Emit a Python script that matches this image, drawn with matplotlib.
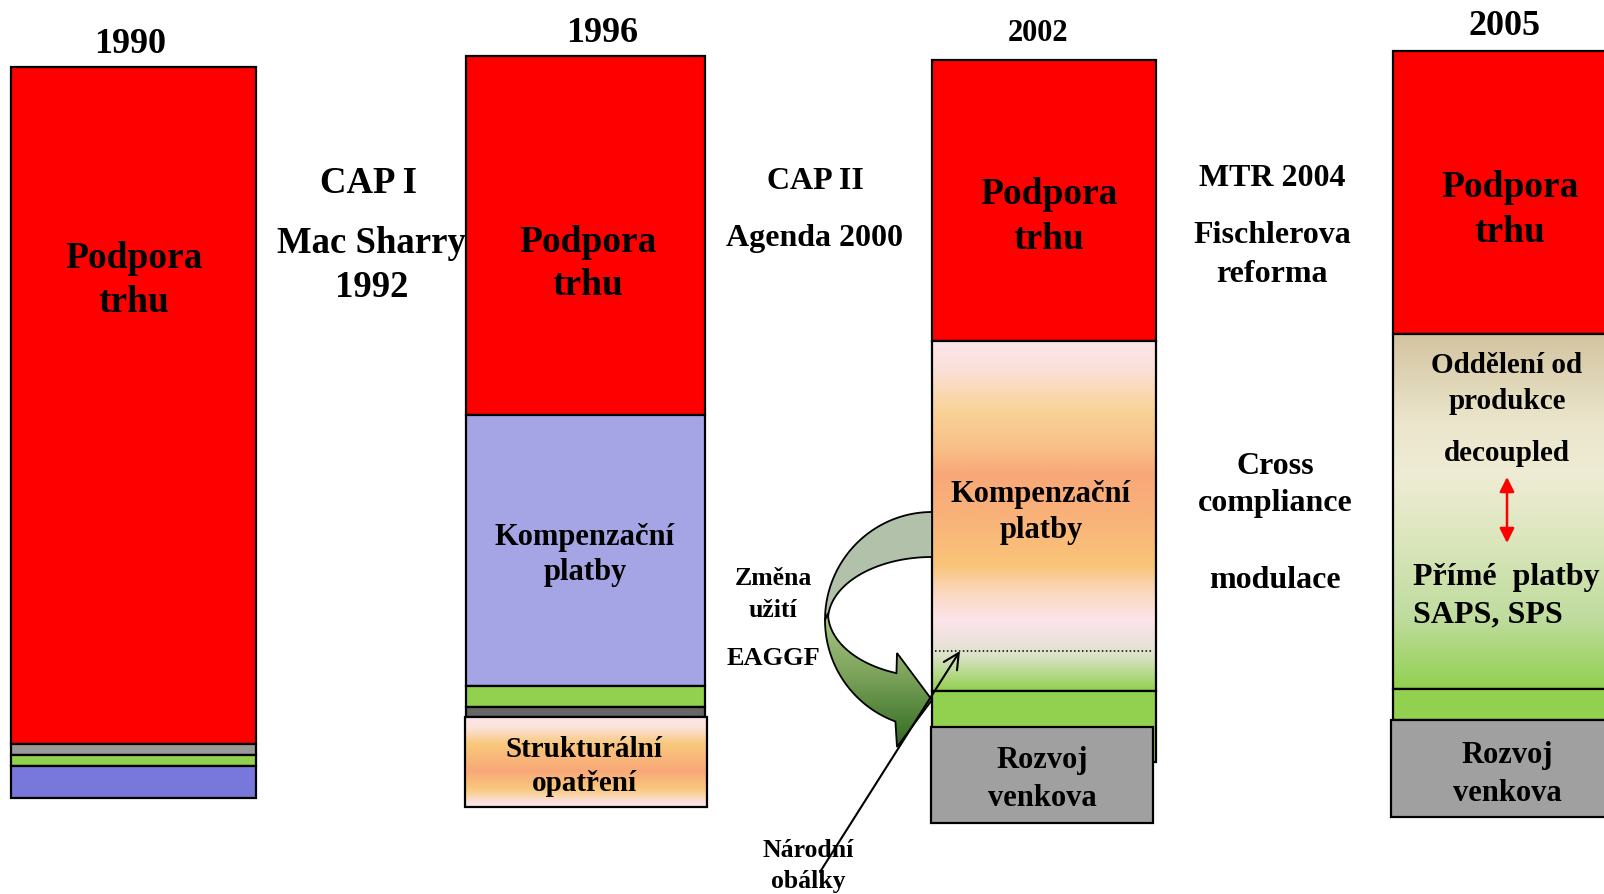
import numpy as np
import matplotlib
matplotlib.use('Agg')
import matplotlib.pyplot as plt
from matplotlib.patches import Polygon
from matplotlib.colors import to_rgb

plt.rcParams['font.family'] = ['Liberation Serif', 'DejaVu Serif']
plt.rcParams['font.weight'] = 'bold'

# ---------------- data ----------------
years = ['1990', '1996', '2002', '2005']
# segment sizes of each column, listed from the top of the column downward
seg_1990 = [677.5, 11, 11, 32]          # Podpora trhu, other, rural, structural
seg_1996 = [359, 271, 21, 10, 90]       # Podpora trhu, Kompenzační platby, rural, other, Strukturální opatření
seg_2002 = [281, 350, 36, 96]           # Podpora trhu, Kompenzační platby, green, Rozvoj venkova
seg_2005 = [283, 355, 31, 97]           # Podpora trhu, Oddělení od produkce, green, Rozvoj venkova
reform_labels = [['CAP I', 'Mac Sharry', '1992'],
                 ['CAP II', 'Agenda 2000'],
                 ['MTR 2004', 'Fischlerova', 'reforma']]

W, H = 1604, 894
fig = plt.figure(figsize=(W / 100, H / 100), dpi=100)
ax = fig.add_axes([0, 0, 1, 1])
ax.set_xlim(0, W)
ax.set_ylim(H, 0)
ax.axis('off')

RED, GREEN, RGRAY = '#ff0000', '#92d050', '#a0a0a0'
grad_struct = [(0, '#fde6ec'), (0.12, '#fbe2d8'), (0.3, '#f9c87c'), (0.6, '#f8a878'),
               (0.8, '#f9c87c'), (0.95, '#fbe2e0'), (1, '#fde6ec')]
grad_komp = [(0, '#fde6ea'), (0.08, '#fbe0d8'), (0.19, '#f9d49a'), (0.3, '#f8c088'),
             (0.38, '#f8a878'), (0.5, '#f9b27a'), (0.64, '#f9c478'), (0.72, '#fbd8c0'),
             (0.8, '#fce4ea'), (0.86, '#ece2dc'), (0.9, '#dce2c8'), (1, '#92d050')]
grad_dec = [(0, '#d3c4a0'), (0.25, '#ebe6cc'), (0.4, '#eeecd4'), (0.55, '#dfe7c0'),
            (0.8, '#bfdc9e'), (1, '#92d050')]

LW = 1.6


def make_grad(stops, n=300):
    pos = np.array([s[0] for s in stops])
    cols = np.array([to_rgb(s[1]) for s in stops])
    t = np.linspace(0, 1, n)
    return np.stack([np.interp(t, pos, cols[:, i]) for i in range(3)], axis=-1)[:, None, :]


def grad_fill(patch, stops, x0, x1, y0, y1, z):
    im = ax.imshow(make_grad(stops), extent=[x0, x1, y1, y0], origin='upper',
                   aspect='auto', zorder=z, interpolation='bilinear')
    im.set_clip_path(patch)


columns = [
    dict(segs=seg_1990, top=66.5, x0=11, w=245,
         fills=[RED, '#999999', GREEN, '#7878dc'], boxes={}),
    dict(segs=seg_1996, top=56, x0=466, w=239,
         fills=[RED, '#a5a5e6', GREEN, '#666666', grad_struct], boxes={4: (-1.5, 1.5)}),
    dict(segs=seg_2002, top=60, x0=932, w=223.5,
         fills=[RED, grad_komp, GREEN, RGRAY], boxes={3: (-1, -2.5)}, extend={2: 35}),
    dict(segs=seg_2005, top=51, x0=1393, w=232,
         fills=[RED, grad_dec, GREEN, RGRAY], boxes={3: (-2, -2)}),
]

for c in columns:
    y = c['top']
    for i, (h, f) in enumerate(zip(c['segs'], c['fills'])):
        dx0, dx1 = c['boxes'].get(i, (0, 0))
        x0 = c['x0'] + dx0
        w = c['w'] - dx0 + dx1
        hh = h + c.get('extend', {}).get(i, 0)
        z = 2 + i * 0.1 + (0.5 if i in c['boxes'] else 0)
        if isinstance(f, str):
            ax.bar(x0, hh, width=w, bottom=y, align='edge', color=f,
                   edgecolor='black', linewidth=LW, zorder=z)
        else:
            bc = ax.bar(x0, hh, width=w, bottom=y, align='edge', color='none',
                        edgecolor='black', linewidth=LW, zorder=z + 0.05)
            grad_fill(bc.patches[0], f, x0, x0 + w, y, y + hh, z)
        y += h

# year labels
year_pos = [(130, 53, 26), (602, 42, 26), (1038, 41, 22), (1505, 35, 26)]
for yr, (x, yb, fs) in zip(years, year_pos):
    ax.text(x, yb, yr, ha='center', va='baseline', fontsize=fs, zorder=10)

# reform labels between columns
ref_pos = [[(368, 193, 26.5), (371, 253, 26.5), (372, 297, 26.5)],
           [(815, 189, 23), (815, 246, 23)],
           [(1272, 186, 23), (1272, 243, 23), (1272, 282, 23)]]
for labs, poss in zip(reform_labels, ref_pos):
    for t, (x, yb, fs) in zip(labs, poss):
        ax.text(x, yb, t, ha='center', va='baseline', fontsize=fs, zorder=10)

# texts inside columns
inner = [
    ('Podpora', 134, 268, 27), ('trhu', 134, 312, 27),
    ('Podpora', 588, 252, 27), ('trhu', 588, 295, 27),
    ('Podpora', 1049, 204, 27), ('trhu', 1049, 249, 27),
    ('Podpora', 1510, 197, 27), ('trhu', 1510, 242, 27),
    ('Kompenzační', 585, 545, 22), ('platby', 585, 580, 22),
    ('Kompenzační', 1041, 502, 22), ('platby', 1041, 538, 22),
    ('Strukturální', 584, 757, 21), ('opatření', 584, 791, 21),
    ('Rozvoj', 1042, 768, 22), ('venkova', 1042, 806, 22),
    ('Rozvoj', 1507, 763, 22), ('venkova', 1507, 801, 22),
    ('Oddělení od', 1507, 373, 21), ('produkce', 1507, 409, 21),
    ('decoupled', 1507, 461, 21),
    ('Cross', 1275, 474, 23), ('compliance', 1275, 511, 23), ('modulace', 1275, 588, 23),
    ('Změna', 773, 585, 18.5), ('užití', 773, 617, 18.5), ('EAGGF', 773, 665, 19),
    ('Národní', 808, 857, 18.5), ('obálky', 808, 888, 18.5),
]
for t, x, yb, fs in inner:
    ax.text(x, yb, t, ha='center', va='baseline', fontsize=fs, zorder=10)
ax.text(1413, 585, 'Přímé  platby', ha='left', va='baseline', fontsize=23, zorder=10)
ax.text(1413, 622, 'SAPS, SPS', ha='left', va='baseline', fontsize=23, zorder=10)

# red double arrow (decoupled <-> direct payments)
ax.annotate('', xy=(1507, 477), xytext=(1507, 543),
            arrowprops=dict(arrowstyle='<|-|>', color='red', lw=1.8,
                            mutation_scale=22, shrinkA=0, shrinkB=0), zorder=11)

# dotted line in 2002 column
ax.plot([935, 1153], [651, 651], ls=(0, (1, 1.6)), color='black', lw=1.1, zorder=6)

# curved arrow (EAGGF change of use)
cx, cy = 932, 620
tb = np.radians(np.linspace(0, 90, 80))
outer_b = np.c_[cx - 107 * np.sin(tb), cy - 108 * np.cos(tb)]
inner_b = np.c_[cx - 104 * np.sin(tb), cy - 63 * np.cos(tb)]
back = Polygon(np.vstack([outer_b, inner_b[::-1]]), closed=True, facecolor='#b2c1aa',
               edgecolor='black', lw=1.3, zorder=7)
ax.add_patch(back)

tf = np.radians(np.linspace(90, 160, 80))
outer_f = np.c_[cx - 107 * np.sin(tf), cy - 108 * np.cos(tf)]
inner_f = np.c_[cx - 104 * np.sin(tf), 613 - 64 * np.cos(tf)]
head = np.array([[897, 747], [932, 700], [897, 653]])
front_pts = np.vstack([outer_f, head, inner_f[::-1]])
front = Polygon(front_pts, closed=True, facecolor='none', edgecolor='black', lw=1.3, zorder=7.2)
ax.add_patch(front)
im = ax.imshow(make_grad([(0, '#acc78c'), (0.45, '#7ea45c'), (1, '#2c681e')]),
               extent=[820, 935, 750, 610], origin='upper', aspect='auto',
               zorder=7.1, interpolation='bilinear')
im.set_clip_path(front)

# thin arrow (national envelopes)
ax.annotate('', xy=(960, 651), xytext=(820, 872),
            arrowprops=dict(arrowstyle='->', color='black', lw=1.5,
                            mutation_scale=28, shrinkA=0, shrinkB=0), zorder=9)

ax.set_xlim(0, W)
ax.set_ylim(H, 0)
fig.savefig('out.png', dpi=100)
